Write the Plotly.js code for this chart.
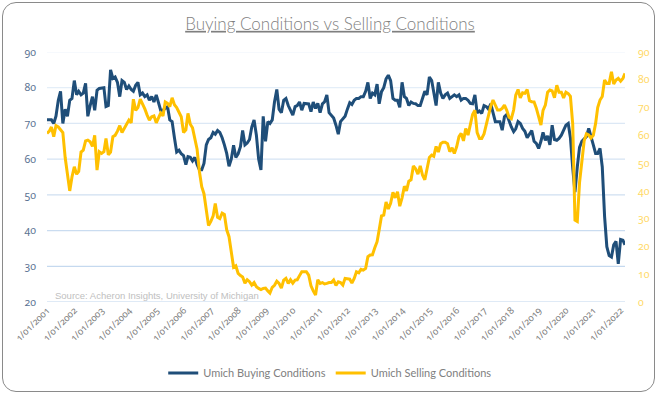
<!DOCTYPE html>
<html><head><meta charset="utf-8">
<script src="https://cdn.plot.ly/plotly-3.0.1.min.js"></script>
<style>
html,body{margin:0;padding:0;background:#fff;}
#wrap{position:relative;width:660px;height:398px;}
#chart{width:660px;height:398px;}
#frame{position:absolute;left:2px;top:2px;width:651px;height:388px;border:1.5px solid #8a8a8a;border-radius:14px;pointer-events:none;}
.xtick text,.ytick text,.y2tick text{font-feature-settings:"onum" 1;}
</style></head><body>
<div id="wrap"><div id="chart"></div><div id="frame"></div></div>
<script>
// Monthly series, January 2001 to March 2022
const firstYear = 2001;
const buyingConditions = [
  71, 71, 71, 70, 72, 76.5, 79, 70, 74, 72, 76.5, 77,
  82, 78, 79, 78, 78.5, 81.2, 72, 75, 77.5, 73.7, 79.3, 79.8,
  80, 80, 74.7, 75, 85, 82.6, 83, 81.5, 77.5, 82, 81.5, 79.5,
  80.5, 79.5, 79, 80.7, 81.5, 78, 78.5, 77.5, 78, 76.5, 77.5, 76,
  78, 76, 73.7, 73.7, 74.2, 74.7, 71, 70.5, 66, 62, 62.5, 61.5,
  61, 58.5, 60.7, 60.5, 59.5, 60.5, 58.5, 57, 57, 58.8, 64, 65.5,
  66, 67.5, 67, 68, 67.5, 66, 64, 61.6, 58, 60, 63.9, 60.5,
  61.5, 63.5, 68, 64, 64.5, 65.5, 69, 71, 66.7, 60, 57, 72,
  65, 70.5, 70, 71, 76, 79.5, 74, 73, 76.5, 77, 75, 73.7,
  72.3, 74.7, 75, 76, 73.7, 75.6, 75.5, 75.5, 73.3, 76, 74.2, 75.6,
  73, 75.5, 76, 78, 73, 72.3, 71.5, 69.5, 67, 70.5, 71.4, 72,
  74, 75.8, 75.3, 76.5, 77, 77, 77.5, 77.5, 79, 81.5, 77, 78.5,
  78, 81, 75.5, 78.9, 80, 82.5, 83.5, 82, 77, 76.5, 76.5, 74.5,
  81.5, 77.5, 77, 75, 76, 75.6, 75.5, 75, 75, 77, 79, 78,
  83, 82, 79, 75, 81.5, 78.5, 77, 78, 78.5, 77, 77.5, 78,
  77.5, 78, 76.5, 77, 77, 76.5, 75.6, 75.5, 78, 73, 73.5, 72.8,
  75, 74.7, 74, 75.5, 73, 70.5, 70.5, 70.5, 68.1, 71.9, 72.5, 70.5,
  69, 67.7, 68.5, 70.5, 70, 68.6, 67.8, 66, 67, 68, 65, 64.4,
  63, 65, 67.5, 65.3, 66.5, 64, 69.5, 65.5, 65.3, 65.8, 66.7, 68,
  69.5, 70, 66, 57.5, 50.8, 57.8, 63.3, 65, 65.6, 66.3, 68.6, 66,
  64, 61.6, 61.6, 63, 57.8, 44, 35.5, 33, 32.6, 36, 37, 30.7,
  37.5, 37.3, 36
];
const sellingConditions = [
  60.7, 61.5, 63, 59.5, 63.5, 63, 62, 61, 52, 45, 40, 45,
  48.7, 46, 47, 54, 54.7, 58, 58.3, 57.7, 56, 60, 47.5, 54.1,
  53.5, 54.1, 58.9, 53, 54, 59.5, 60, 61.5, 63.5, 61, 62.5, 64.5,
  65.5, 64.5, 73, 69, 70, 73, 71.5, 69.5, 67.3, 65.5, 66.7, 67,
  64.5, 66.7, 68, 67, 72, 71.5, 70.3, 73.5, 71, 70, 68.5, 66.7,
  61, 62, 67.9, 64, 62.7, 58.3, 55, 47, 41.5, 39, 32, 27.5,
  29, 31, 35.5, 30.5, 30, 32, 31.5, 26, 23.5, 17.5, 12.5, 13,
  10.3, 9.5, 9, 6.8, 8, 7.3, 6.1, 7, 5.5, 4.9, 4.5, 4.9,
  5, 4, 3.2, 5.3, 6, 7.5, 6.7, 5, 7.9, 8.5, 6.7, 8,
  6.8, 7.9, 8, 9.5, 10.9, 10.9, 10.9, 9.7, 5.8, 4, 2.5, 8,
  6.7, 7, 6.5, 6.7, 7, 7, 7.9, 6, 7.3, 7, 6.1, 8.5,
  8.3, 8.2, 6.8, 8.5, 10.9, 10.5, 11.8, 11.5, 12.1, 16.3, 16.9, 17,
  19.5, 21.7, 26, 31, 31.3, 36, 33.5, 35.5, 39.5, 37.5, 39.7, 34.5,
  37.5, 41.7, 40, 43.5, 44, 49, 48, 46, 49, 45.7, 44, 48,
  52, 52.9, 52.5, 56, 54, 57, 57.5, 57.5, 57, 54.1, 55.5, 53.5,
  55.9, 59.5, 60.7, 58, 62.5, 60.1, 63.5, 67.5, 69, 61, 58.9, 58.9,
  60.5, 63.7, 67.5, 70.5, 72.7, 71, 69.1, 69.1, 69.7, 70.9, 69, 66.5,
  66, 69.1, 74.5, 76.5, 73.5, 75.3, 75.1, 76.5, 72.5, 72.1, 72, 69.8,
  67, 63.7, 69, 70.9, 75.5, 76.3, 76, 73.5, 78, 75.5, 75.5, 73.5,
  75.5, 75, 74, 64, 29.5, 29, 43, 51, 58, 60.5, 60.1, 59,
  60, 64.3, 70, 72.7, 74, 79.9, 78.7, 78.7, 82.9, 78.5, 79.9, 80.5,
  79.5, 80.5, 82.3
];
const tickYears = [2001,2002,2003,2004,2005,2006,2007,2008,2009,2010,2011,2012,2013,2014,2015,2016,2017,2018,2019,2020,2021,2022];
const tickLabels = tickYears.map(y => '1/01/' + y);
const leftTicks = [20, 30, 40, 50, 60, 70, 80, 90];
const seriesNames = ['Umich Buying Conditions', 'Umich Selling Conditions'];
const chartTitle = 'Buying Conditions vs Selling Conditions';
const sourceNote = 'Source: Acheron Insights, University of Michigan';

// style: gridlines fade from a stronger blue at the bottom to nearly white at the top
const gridColors = ['#bfd5ed', '#c5d9ef', '#cadcf0', '#cfdff1', '#d5e3f3', '#dce8f5', '#e4eef8', '#eef4fb'];

const months = buyingConditions.map((_, i) => {
  const y = firstYear + Math.floor(i / 12), m = (i % 12) + 1;
  return y + '-' + String(m).padStart(2, '0') + '-01';
});

const traces = [
  {x: months, y: buyingConditions, name: seriesNames[0], type: 'scatter', mode: 'lines',
   line: {color: '#1f4e79', width: 3}, yaxis: 'y', hoverinfo: 'skip'},
  {x: months, y: sellingConditions, name: seriesNames[1], type: 'scatter', mode: 'lines',
   line: {color: '#ffc000', width: 3}, yaxis: 'y2', hoverinfo: 'skip'}
];

const gridShapes = leftTicks.map((v, i) => ({
  type: 'line', xref: 'paper', yref: 'y', x0: 0, x1: 1, y0: v, y1: v, layer: 'below',
  line: {color: gridColors[i], width: 1.2}
}));

const tickFamily = 'Noto Sans, Lato, sans-serif';

const layout = {
  width: 660, height: 398,
  paper_bgcolor: '#ffffff', plot_bgcolor: '#ffffff',
  margin: {l: 47, r: 35, t: 52, b: 96, autoexpand: false},
  font: {family: 'Lato, sans-serif', color: '#7f7f7f'},
  title: {text: '<u>' + chartTitle + '</u>', x: 0.5, xref: 'container', y: 0.94, yref: 'container', yanchor: 'middle',
          font: {family: 'Lato, sans-serif', size: 17, color: '#7f7f7f', weight: 300}},
  xaxis: {type: 'date', range: [months[0], months[months.length - 1]], automargin: false,
          tickvals: tickYears.map(y => y + '-01-01'), ticktext: tickLabels, tickangle: -45,
          tickfont: {family: tickFamily, size: 9.5, color: '#808080'},
          showgrid: false, zeroline: false, showline: false, ticks: ''},
  yaxis: {range: [20, 90], tickvals: leftTicks, showgrid: false, automargin: false,
          zeroline: false, showline: false, ticks: '', ticklabelstandoff: 10,
          tickfont: {family: tickFamily, size: 10.5, color: '#5b7393'}},
  yaxis2: {range: [0, 90], tick0: 0, dtick: 10, overlaying: 'y', side: 'right', showgrid: false, automargin: false,
           zeroline: false, showline: false, ticks: '', ticklabelstandoff: 12,
           tickfont: {family: tickFamily, size: 10.5, color: '#ffd966'}},
  legend: {orientation: 'h', x: 0.49, xanchor: 'center', y: -0.284, yanchor: 'middle',
           font: {family: 'Lato, sans-serif', size: 11, color: '#808080'}, bgcolor: 'rgba(0,0,0,0)'},
  shapes: gridShapes,
  annotations: [{text: sourceNote, xref: 'paper', yref: 'paper', x: 0.01, y: 0.028, xanchor: 'left', yanchor: 'middle',
                 showarrow: false, font: {family: 'Liberation Sans, Arial, sans-serif', size: 9.5, color: '#c0c0c0'}}],
  showlegend: true
};

Plotly.newPlot('chart', traces, layout, {displayModeBar: false, staticPlot: true});
</script>
</body></html>
